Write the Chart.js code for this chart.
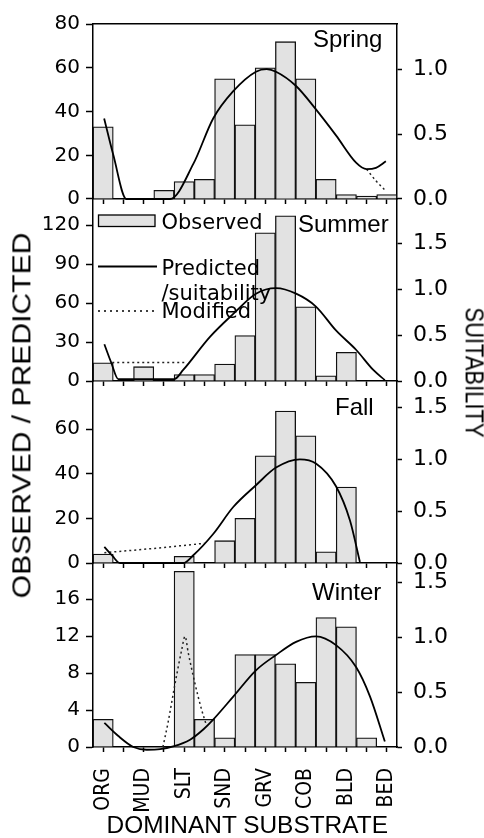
<!DOCTYPE html>
<html>
<head>
<meta charset="utf-8">
<script src="https://cdn.jsdelivr.net/npm/chart.js@4.4.1/dist/chart.umd.min.js"></script>
<style>
  html, body { margin: 0; padding: 0; background: #fff; }
  #wrap { position: relative; width: 484px; height: 838px; overflow: hidden; }
  #wrap canvas { position: absolute; left: 0; top: 0; }
  .lbl { position: absolute; white-space: nowrap; font-family: "Liberation Sans", Arial, sans-serif; color: #000; line-height: 1; }
</style>
</head>
<body>
<div id="wrap">
  <canvas id="c-spring" width="484" height="838"></canvas>
  <canvas id="c-summer" width="484" height="838"></canvas>
  <canvas id="c-fall" width="484" height="838"></canvas>
  <canvas id="c-winter" width="484" height="838"></canvas>
  <div class="lbl" id="ytitle" style="font-size:25px">OBSERVED / PREDICTED</div>
  <div class="lbl" id="y2title" style="font-size:25px">SUITABILITY</div>
  <div class="lbl" id="xtitle" style="font-size:24px">DOMINANT SUBSTRATE</div>
</div>
<script>
// ---- data (15 substrate bins, labels on every other bin) ----
const substrates = ["ORG", "MUD", "SLT", "SND", "GRV", "COB", "BLD", "BED"];
const labelBins = [0, 2, 4, 6, 8, 10, 12, 14];
const binEdges = [-0.5, 0.5, 1.5, 2.5, 3.5, 4.5, 5.5, 6.5, 7.5, 8.5, 9.5, 10.5, 11.5, 12.5, 13.5, 14.5];

const springObserved = [33, 0, 0, 4, 8, 9, 55, 34, 60, 72, 55, 9, 2, 1.3, 2];
const summerObserved = [14, 0, 11, 0, 5, 5, 13, 35, 114, 127, 57, 4, 22, 0, 0];
const fallObserved   = [4, 0, 0, 0, 3, 0, 10, 20, 48, 68, 57, 5, 34, 0, 0];
const winterObserved = [3, 0, 0, 0, 19, 3, 1, 10, 10, 9, 7, 14, 13, 1, 0];

// predicted suitability, [bin, value]
const springPredicted = [[0.05,0.62],[0.5,0.34],[1.15,0],[3.3,0],[4.45,0.27],[5.43,0.62],[6.42,0.83],[7.54,0.98],[8.07,1.0],[8.53,0.98],[9.52,0.87],[10.5,0.69],[11.49,0.49],[12.48,0.28],[13.0,0.23],[13.46,0.24],[13.95,0.29]];
const summerPredicted = [[0.06,0.40],[0.4,0.2],[0.75,0.02],[3.5,0.02],[3.95,0.12],[5.27,0.48],[6.42,0.73],[7.54,0.95],[8.53,1.01],[9.52,0.95],[10.5,0.81],[11.49,0.55],[12.48,0.34],[13.33,0.12],[13.9,0.01]];
const fallPredicted   = [[0.06,0.155],[0.45,0.07],[0.83,0],[3.95,0],[4.45,0.075],[5.43,0.28],[6.42,0.54],[7.54,0.75],[8.53,0.92],[9.71,1.0],[10.5,0.96],[11.49,0.74],[12.18,0.41],[12.67,0.01]];
const winterPredicted = [[0.06,0.22],[0.75,0.10],[1.49,0],[2.15,-0.025],[2.81,-0.02],[3.46,0.005],[4.29,0.067],[4.94,0.16],[5.43,0.25],[6.42,0.46],[7.54,0.70],[8.53,0.84],[9.52,0.96],[10.5,1.01],[11.49,0.93],[12.48,0.73],[13.17,0.46],[13.9,0.05]];

// modified suitability, [bin, value]
const springModified = [[13.0,0.23],[13.46,0.14],[13.9,0.07]];
const summerModified = [[0.45,0.2],[4.15,0.2]];
const fallModified   = [[0.06,0.10],[2.47,0.14],[5.0,0.19]];
const winterModified = [[2.95,0],[3.2,0.22],[3.55,0.58],[3.88,0.89],[4.04,1.01],[4.2,0.86],[4.53,0.58],[4.86,0.34],[5.11,0.19]];

// tick labels
const springTicks = [0, 20, 40, 60, 80];
const summerTicks = [0, 30, 60, 90, 120];
const fallTicks   = [0, 20, 40, 60];
const winterTicks = [0, 4, 8, 12, 16];
const springSuitTicks = [0, 0.5, 1.0];
const suitTicks = [0, 0.5, 1.0, 1.5];

// ---- styling helpers ----
const BAR_FILL = "#e2e2e2";
const INK = "#000";
const pairs = a => a.map(([x, y]) => ({ x, y }));

function hasFont(name) {
  const c = document.createElement("canvas").getContext("2d");
  c.font = "40px monospace"; const a = c.measureText("ORGMUDSLT").width;
  c.font = `40px "${name}", monospace`; const b = c.measureText("ORGMUDSLT").width;
  return a !== b;
}
// condensed face for the substrate labels, if one is installed
let xLabelFont = { family: '"Liberation Sans", Arial', size: 19 };
if (hasFont("DejaVu Sans Condensed")) xLabelFont = { family: '"DejaVu Sans Condensed"', size: 21 };
else if (hasFont("Liberation Sans Narrow")) xLabelFont = { family: '"Liberation Sans Narrow"', size: 23 };

const panelText = {
  id: "panelText",
  afterDraw(chart, args, o) {
    const ctx = chart.ctx;
    ctx.save();
    ctx.font = '24px "Liberation Sans", Arial, sans-serif';
    ctx.fillStyle = INK;
    ctx.textBaseline = "alphabetic";
    ctx.fillText(o.text, o.x, o.y);
    ctx.restore();
  }
};

const legendBox = {
  id: "legendBox",
  afterDraw(chart, args, o) {
    if (!o.show) return;
    const ctx = chart.ctx;
    ctx.save();
    ctx.fillStyle = BAR_FILL; ctx.strokeStyle = INK; ctx.lineWidth = 1.3;
    ctx.fillRect(98.5, 215, 56.5, 11.5);
    ctx.strokeRect(98.5, 215, 56.5, 11.5);
    ctx.lineWidth = 1.8;
    ctx.beginPath(); ctx.moveTo(98, 266.5); ctx.lineTo(157, 266.5); ctx.stroke();
    ctx.lineWidth = 1.5; ctx.setLineDash([2, 4]);
    ctx.beginPath(); ctx.moveTo(98, 311); ctx.lineTo(154, 311); ctx.stroke();
    ctx.setLineDash([]);
    ctx.fillStyle = INK;
    ctx.font = '21px "DejaVu Sans", sans-serif';
    ctx.fillText("Observed", 161.5, 229.3);
    ctx.fillText("Predicted", 161.5, 275);
    ctx.fillText("/suitability", 161.5, 299.5);
    ctx.fillText("Modified", 161.5, 318.3);
    ctx.restore();
  }
};

function makePanel(id, p) {
  const axisBorder = { display: true, color: INK, width: 1.5 };
  const scales = {
    x: {
      type: "linear", position: "bottom", min: -0.5, max: 14.5, offset: false, weight: 0,
      afterBuildTicks: s => { s.ticks = binEdges.map(v => ({ value: v })); },
      afterFit: s => { s.height = 6; },
      ticks: { display: false },
      grid: { drawOnChartArea: false, drawTicks: true, tickLength: 5, tickColor: INK, tickWidth: 1.5 },
      border: axisBorder
    },
    y: {
      type: "linear", position: "left", min: 0, max: p.yMax,
      afterBuildTicks: s => { s.ticks = p.yTicks.map(v => ({ value: v })); },
      afterFit: s => { s.width = 93; },
      ticks: { color: INK, padding: 6, font: { family: '"DejaVu Sans", sans-serif', size: 20 }, callback: v => String(v) },
      grid: { drawOnChartArea: false, tickLength: 7, tickColor: INK, tickWidth: 1.5 },
      border: axisBorder
    },
    y2: {
      type: "linear", position: "right", min: 0, max: p.y2Max,
      afterBuildTicks: s => { s.ticks = p.y2Ticks.map(v => ({ value: v })); },
      afterFit: s => { s.width = 87; },
      ticks: { color: INK, padding: 11, font: { family: '"DejaVu Sans", sans-serif', size: 22 }, callback: v => Number(v).toFixed(1) },
      grid: { drawOnChartArea: false, tickLength: 5, tickColor: INK, tickWidth: 1.5 },
      border: axisBorder
    }
  };
  let bottomExtra = 6;
  if (p.top) {
    scales.xt = {
      type: "linear", position: "top", min: -0.5, max: 14.5, display: true,
      afterFit: s => { s.height = 0; },
      ticks: { display: false }, grid: { display: false, drawTicks: false }, border: axisBorder
    };
  }
  if (p.bottom) {
    scales.xl = {
      type: "linear", position: "bottom", min: -0.5, max: 14.5, offset: false, weight: 1,
      afterBuildTicks: s => { s.ticks = labelBins.map(v => ({ value: v })); },
      afterFit: s => { s.height = 60; },
      ticks: { color: INK, padding: 15, minRotation: 90, maxRotation: 90, autoSkip: false, font: xLabelFont,
               callback: v => substrates[labelBins.indexOf(v)] },
      grid: { display: false, drawTicks: false },
      border: { display: false }
    };
    bottomExtra += 60;
  }

  new Chart(document.getElementById(id), {
    type: "bar",
    data: {
      datasets: [
        { type: "line", data: pairs(p.predicted), yAxisID: "y2", xAxisID: "x", borderColor: INK, borderWidth: 1.8,
          pointRadius: 0, cubicInterpolationMode: "monotone", clip: false, order: 1 },
        { type: "line", data: pairs(p.modified), yAxisID: "y2", xAxisID: "x", borderColor: "#222", borderWidth: 1.5,
          borderDash: [2, 3], pointRadius: 0, cubicInterpolationMode: "monotone", clip: false, order: 1 },
        { type: "bar", data: p.observed.map((v, i) => ({ x: i, y: v })), yAxisID: "y", xAxisID: "x",
          backgroundColor: BAR_FILL, borderColor: "#111", borderWidth: 1.3, borderSkipped: "start",
          categoryPercentage: 1, barPercentage: 1, order: 2 }
      ]
    },
    options: {
      responsive: false, animation: false, devicePixelRatio: 1, events: [],
      layout: { padding: { top: p.areaTop, bottom: 838 - p.areaBottom - bottomExtra, left: 0, right: 0 } },
      scales,
      plugins: {
        legend: { display: false }, tooltip: { enabled: false },
        panelText: { text: p.name, x: p.nameX, y: p.nameY },
        legendBox: { show: !!p.legend }
      }
    },
    plugins: [panelText, legendBox]
  });
}

makePanel("c-spring", { name: "Spring", nameX: 313, nameY: 47, top: true, areaTop: 20, areaBottom: 199,
  yMax: 80, y2Max: 1.346, yTicks: springTicks, y2Ticks: springSuitTicks,
  observed: springObserved, predicted: springPredicted, modified: springModified });
makePanel("c-summer", { name: "Summer", nameX: 298, nameY: 232, legend: true, areaTop: 199, areaBottom: 381,
  yMax: 140, y2Max: 1.98, yTicks: summerTicks, y2Ticks: suitTicks,
  observed: summerObserved, predicted: summerPredicted, modified: summerModified });
makePanel("c-fall", { name: "Fall", nameX: 335, nameY: 415, areaTop: 381, areaBottom: 563,
  yMax: 81.5, y2Max: 1.755, yTicks: fallTicks, y2Ticks: suitTicks,
  observed: fallObserved, predicted: fallPredicted, modified: fallModified });
makePanel("c-winter", { name: "Winter", nameX: 312, nameY: 600, bottom: true, areaTop: 563, areaBottom: 747,
  yMax: 19.9, y2Max: 1.68, yTicks: winterTicks, y2Ticks: suitTicks,
  observed: winterObserved, predicted: winterPredicted, modified: winterModified });

// axis titles spanning all panels
function placeLabel(id, cx, cy, len, rot) {
  const el = document.getElementById(id);
  const w = el.offsetWidth, h = el.offsetHeight;
  el.style.left = (cx - w / 2) + "px";
  el.style.top = (cy - h / 2) + "px";
  el.style.transform = `rotate(${rot}deg) scaleX(${len / w})`;
}
placeLabel("ytitle", 22, 415, 366, -90);
placeLabel("y2title", 474, 372, 130, 90);
placeLabel("xtitle", 247, 825, 281, 0);
</script>
</body>
</html>
